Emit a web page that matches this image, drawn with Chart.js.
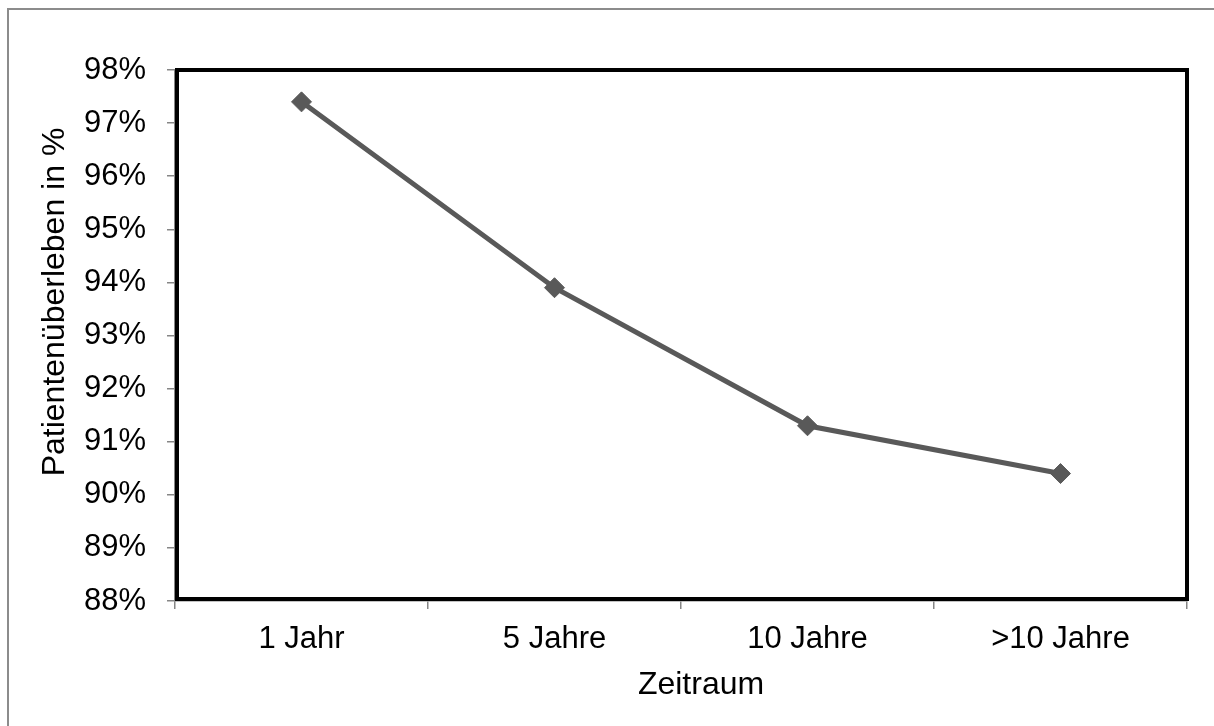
<!DOCTYPE html>
<html>
<head>
<meta charset="utf-8">
<script src="https://cdn.jsdelivr.net/npm/chart.js@4.4.0/dist/chart.umd.min.js"></script>
<style>
  html, body { margin: 0; padding: 0; background: #ffffff; }
  #wrap { width: 1214px; height: 726px; position: relative; }
</style>
</head>
<body>
<div id="wrap"><canvas id="c" width="1214" height="726"></canvas></div>
<script>
// Patient survival by time period
const categories = ['1 Jahr', '5 Jahre', '10 Jahre', '>10 Jahre'];
const survival = [97.4, 93.9, 91.3, 90.4];
const yMin = 88;
const yMax = 98;
const yStep = 1;
const xTitle = 'Zeitraum';
const yTitle = 'Patientenüberleben in %';

const FONT = '"Liberation Sans", Arial, sans-serif';
const FONT_SIZE = 31;
const TITLE_SIZE = 32;
const AXIS_GREY = '#868686';
const LINE_GREY = '#595959';

// Outer chart frame (grey), drawn behind everything
const chartFrame = {
  id: 'chartFrame',
  beforeDraw(chart) {
    const ctx = chart.ctx;
    ctx.save();
    ctx.strokeStyle = '#8c8c8c';
    ctx.lineWidth = 2;
    ctx.beginPath();
    ctx.moveTo(8, chart.height + 5);
    ctx.lineTo(8, 9);
    ctx.lineTo(chart.width + 5, 9);
    ctx.stroke();
    ctx.restore();
  }
};

// Heavy black border around the plot area
const plotBorder = {
  id: 'plotBorder',
  beforeDatasetsDraw(chart) {
    const a = chart.chartArea;
    const ctx = chart.ctx;
    ctx.save();
    ctx.strokeStyle = '#000000';
    ctx.lineWidth = 4;
    ctx.lineJoin = 'miter';
    ctx.strokeRect(a.left + 2, a.top, a.right - a.left - 2, a.bottom - a.top - 2);
    ctx.restore();
  }
};

// Axis titles
const axisTitles = {
  id: 'axisTitles',
  afterDraw(chart) {
    const ctx = chart.ctx;
    ctx.save();
    ctx.fillStyle = '#000000';
    ctx.font = TITLE_SIZE + 'px ' + FONT;
    ctx.textAlign = 'center';
    ctx.textBaseline = 'middle';
    ctx.fillText(xTitle, 701, 685);
    ctx.translate(55, 302);
    ctx.rotate(-Math.PI / 2);
    ctx.fillText(yTitle, 0, 0);
    ctx.restore();
  }
};

new Chart(document.getElementById('c'), {
  type: 'line',
  data: {
    labels: categories,
    datasets: [{
      data: survival,
      borderColor: LINE_GREY,
      backgroundColor: LINE_GREY,
      borderWidth: 5,
      pointStyle: 'rectRot',
      pointRadius: 10,
      pointBorderWidth: 1,
      pointBackgroundColor: LINE_GREY,
      pointBorderColor: LINE_GREY,
      tension: 0,
      fill: false,
      clip: false
    }]
  },
  options: {
    responsive: false,
    animation: false,
    devicePixelRatio: 1,
    layout: { padding: { left: 0, right: 27, top: 70, bottom: 0 } },
    plugins: {
      legend: { display: false },
      tooltip: { enabled: false },
      title: { display: false }
    },
    scales: {
      x: {
        type: 'category',
        offset: true,
        grid: {
          offset: true,
          drawOnChartArea: false,
          drawTicks: true,
          tickLength: 8,
          color: AXIS_GREY,
          lineWidth: 1.5
        },
        border: { display: true, color: AXIS_GREY, width: 1.5 },
        ticks: {
          color: '#000000',
          font: { family: FONT, size: FONT_SIZE },
          padding: 12,
          maxRotation: 0,
          autoSkip: false
        },
        afterFit(scale) { scale.height = 125; }
      },
      y: {
        min: yMin,
        max: yMax,
        grid: {
          drawOnChartArea: false,
          drawTicks: true,
          tickLength: 8,
          color: AXIS_GREY,
          lineWidth: 1.5
        },
        border: { display: true, color: AXIS_GREY, width: 1.5 },
        ticks: {
          stepSize: yStep,
          color: '#000000',
          font: { family: FONT, size: FONT_SIZE },
          padding: 21,
          callback: (v) => v + '%'
        },
        afterFit(scale) { scale.width = 175; }
      }
    }
  },
  plugins: [chartFrame, plotBorder, axisTitles]
});
</script>
</body>
</html>
